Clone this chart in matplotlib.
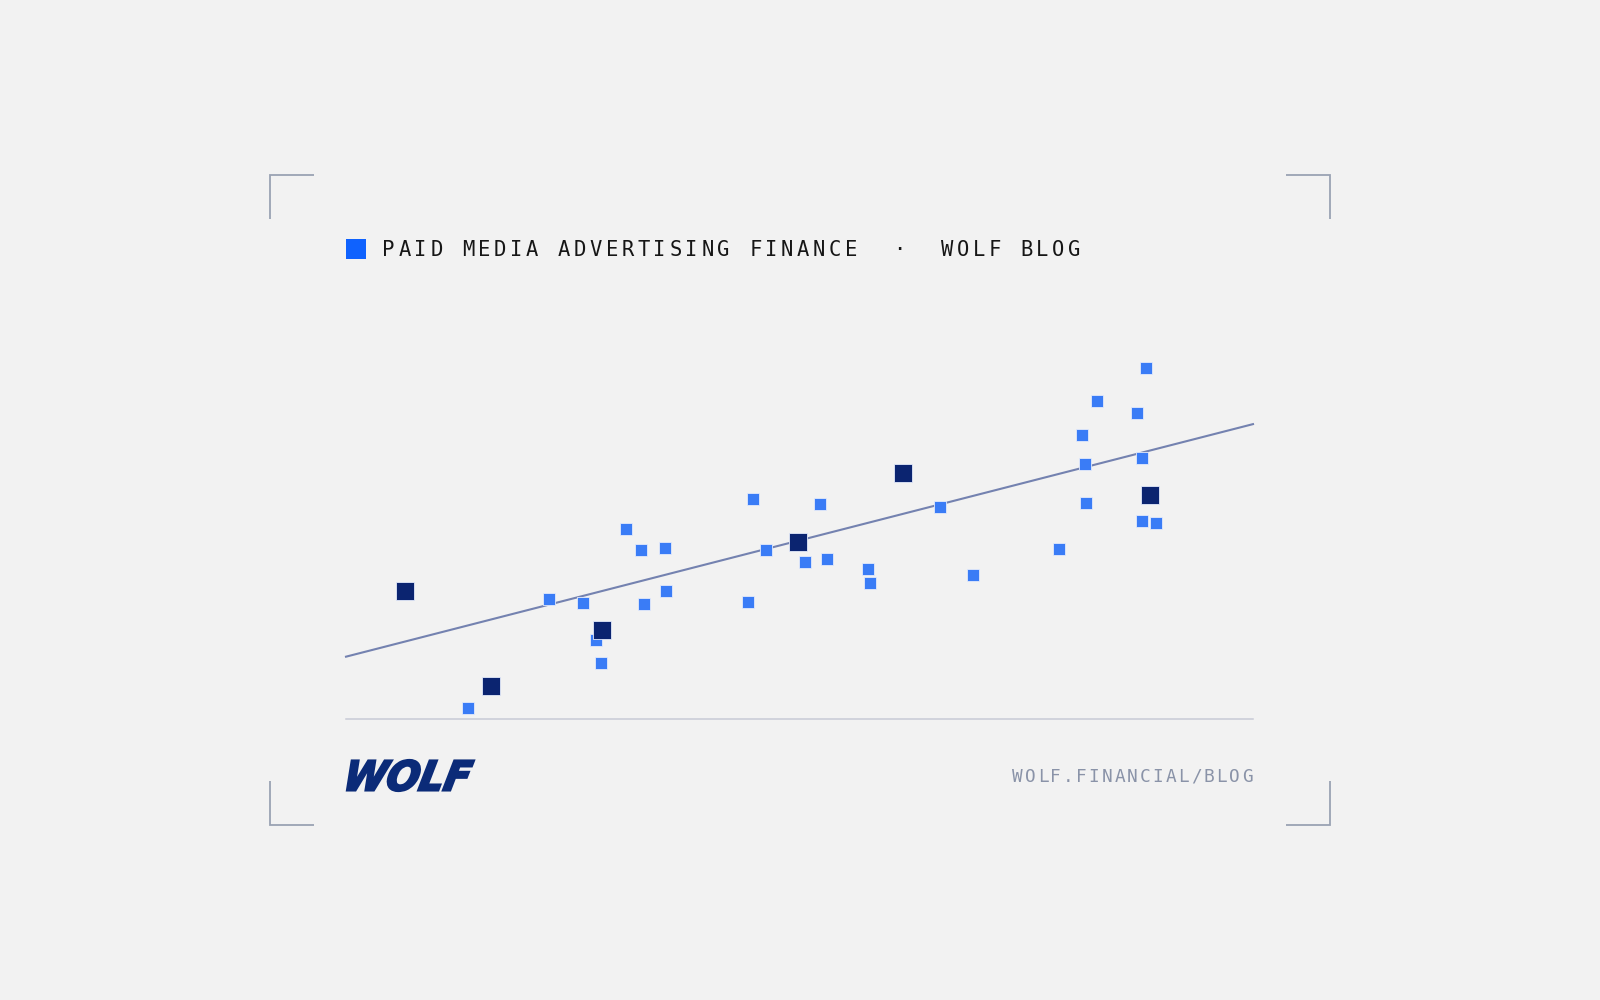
import matplotlib
matplotlib.use("Agg")
import matplotlib.pyplot as plt
from matplotlib.textpath import TextPath
from matplotlib.patches import PathPatch
from matplotlib.font_manager import FontProperties
from matplotlib.transforms import Affine2D

# values (arbitrary 0-100 units, no axis shown)
light_x = [13.5, 22.4, 26.1, 27.6, 28.1, 30.9, 32.5, 32.9, 35.2, 35.3,
           44.3, 44.9, 46.3, 50.6, 52.3, 53.0, 57.6, 57.8, 65.5, 69.1,
           78.6, 81.2, 81.5, 81.6, 82.8, 87.2, 87.8, 88.2, 87.8, 89.3]
light_y = [2.8, 31.5, 30.4, 20.8, 14.7, 50.1, 44.4, 30.3, 45.0, 33.7,
           30.9, 58.0, 44.6, 41.3, 56.7, 42.2, 39.5, 35.9, 55.8, 38.0,
           44.7, 74.7, 67.0, 56.9, 83.7, 80.4, 68.7, 92.4, 52.2, 51.5]
key_x = [6.5, 16.0, 28.2, 49.8, 61.4, 88.6]
key_y = [33.6, 8.7, 23.3, 46.6, 64.7, 58.9]
trend_x = [0, 100]
trend_y = [16.4, 77.6]

title = "PAID MEDIA ADVERTISING FINANCE  \u00b7  WOLF BLOG"
footer = "WOLF.FINANCIAL/BLOG"

bg = "#f2f2f2"
W, H = 1600, 1000

fig = plt.figure(figsize=(16, 10), dpi=100, facecolor=bg)

# overlay in pixel coords (y down) for the frame decorations
ov = fig.add_axes([0, 0, 1, 1])
ov.set_xlim(0, W)
ov.set_ylim(H, 0)
ov.axis("off")

bc = "#9aa3b3"
arm = 44
for cx, cy, dx, dy in [(270, 174.5, 1, 1), (1330, 174.5, -1, 1),
                       (270, 825, 1, -1), (1330, 825, -1, -1)]:
    ov.plot([cx + dx * arm, cx, cx], [cy, cy, cy + dy * arm],
            color=bc, lw=1.3, solid_capstyle="butt", solid_joinstyle="miter")

ov.add_patch(plt.Rectangle((346, 239), 20, 20, color="#0f62fe", lw=0))

for i, ch in enumerate(title):
    ov.text(388.5 + i * 15.95, 256.5, ch, fontsize=14.8, family="DejaVu Sans Mono",
            color="#161616", ha="center", va="baseline")

for i, ch in enumerate(footer[::-1]):
    ov.text(1247 - i * 12.75, 781.7, ch, fontsize=12.8, family="DejaVu Sans Mono",
            color="#8a93a8", ha="center", va="baseline")

fp = FontProperties(family=["DejaVu Sans"], weight="bold", style="oblique")
tp = TextPath((0, 0), "WOLF", prop=fp)
tp = Affine2D().skew_deg(12, 0).transform_path(tp)
ext = tp.get_extents()
sx = 127 / ext.width
sy = 31 / ext.height
tr = Affine2D().translate(-ext.x0, -ext.y1).scale(sx, -sy).translate(347, 760)
ov.add_patch(PathPatch(tr.transform_path(tp), facecolor="#0b2b78",
                       edgecolor="#0b2b78", lw=1.6, joinstyle="miter"))

# scatter panel
ax = fig.add_axes([346 / W, 1 - 719 / H, 907 / W, 380 / H])
ax.set_facecolor("none")
ax.set_xlim(0, 100)
ax.set_ylim(0, 100)
for s in ["top", "right", "left"]:
    ax.spines[s].set_visible(False)
ax.spines["bottom"].set_color("#c8cad6")
ax.spines["bottom"].set_linewidth(1.1)
ax.set_xticks([])
ax.set_yticks([])

ax.plot(trend_x, trend_y, color="#7482b0", lw=1.5, zorder=2, clip_on=False)
ax.scatter(light_x, light_y, marker="s", s=64, color="#3a7cf6",
           edgecolors="#e3eafb", linewidths=0.6, zorder=3, clip_on=False)
ax.scatter(key_x, key_y, marker="s", s=165, color="#0b2470",
           edgecolors="#e3eafb", linewidths=0.6, zorder=4, clip_on=False)

fig.savefig("out.png", dpi=100, facecolor=bg)
